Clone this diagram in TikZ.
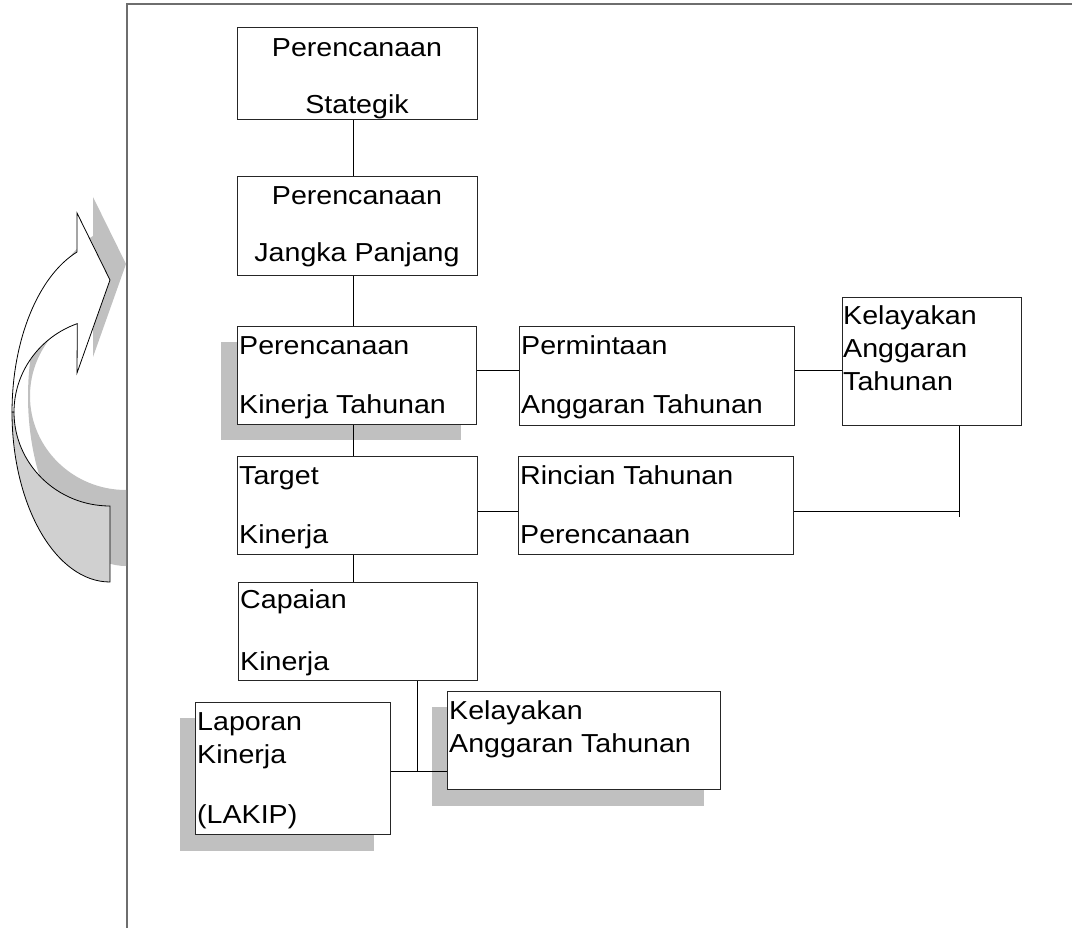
\documentclass[tikz,border=0pt]{standalone}
\usepackage{fontspec}
\setmainfont[FakeStretch=1.1]{Liberation Sans}
\definecolor{shadowgray}{HTML}{C0C0C0}
\definecolor{backface}{HTML}{D0D0D0}
\definecolor{framecol}{HTML}{6E6E6E}
\begin{document}
\begin{tikzpicture}[x=1pt,y=-1pt,
  box/.style={draw=black!85, line width=1pt, fill=white, inner sep=0pt, anchor=north west},
  shadowbox/.style={fill=shadowgray, draw=none, inner sep=0pt, anchor=north west},
  txt/.style={inner sep=0pt, anchor=base west, font=\fontsize{26}{30}\selectfont},
  ctxt/.style={txt, anchor=base},
  conn/.style={draw=black, line width=1pt},
  arrowline/.style={draw=black, line width=0.8pt}]
\useasboundingbox (0,0) rectangle (1072,928);

% frame
\coordinate (fa) at (127,928);
\coordinate (fb) at (127,4);
\coordinate (fc) at (1072,4);
\draw[framecol, line width=1.5pt] (fa) -- (fb) -- (fc);

% curved arrow: shadow
\begin{scope}[shift={(16,-16)}]
\fill[shadowgray] (77,252) arc[start angle=250.3, end angle=180, x radius=98, y radius=170]
  -- (14,412) arc[start angle=180, end angle=250.1, x radius=96, y radius=94]
  -- (77,373) -- (110,280) -- (77,213) -- cycle;
\fill[shadowgray] (110,506) arc[start angle=90, end angle=180, x radius=96, y radius=94]
  -- (12,412) arc[start angle=180, end angle=90, x radius=98, y radius=170] -- cycle;
\end{scope}
% curved arrow: back face
\path[arrowline, fill=backface] (110,506) arc[start angle=90, end angle=180, x radius=96, y radius=94]
  -- (12,412) arc[start angle=180, end angle=90, x radius=98, y radius=170] -- cycle;
% curved arrow: front face with head
\path[arrowline, fill=white] (77,252) arc[start angle=250.3, end angle=180, x radius=98, y radius=170]
  -- (14,412) arc[start angle=180, end angle=250.1, x radius=96, y radius=94]
  -- (77,373) -- (110,280) -- (77,213) -- cycle;

% shadows
\node[shadowbox, minimum width=240pt, minimum height=98pt] (s3) at (221,342) {};
\node[shadowbox, minimum width=194pt, minimum height=133pt] (s9) at (180,718) {};
\node[shadowbox, minimum width=272pt, minimum height=99pt] (s10) at (432,707) {};

% boxes
\node[box, minimum width=240pt, minimum height=92pt] (b1) at (237,27) {};
\node[box, minimum width=240pt, minimum height=99pt] (b2) at (237,176) {};
\node[box, minimum width=239pt, minimum height=98pt] (b3) at (237,326) {};
\node[box, minimum width=275pt, minimum height=99pt] (b4) at (519,326) {};
\node[box, minimum width=179pt, minimum height=128pt] (b5) at (842,297) {};
\node[box, minimum width=240pt, minimum height=98pt] (b6) at (237,456) {};
\node[box, minimum width=275pt, minimum height=98pt] (b7) at (518,456) {};
\node[box, minimum width=239pt, minimum height=98pt] (b8) at (238,582) {};
\node[box, minimum width=195pt, minimum height=132pt] (b9) at (195,702) {};
\node[box, minimum width=273pt, minimum height=98pt] (b10) at (447,691) {};

% texts
\node[ctxt] (t1a) at (357,57) {Perencanaan};
\node[ctxt] (t1b) at (357,114) {Stategik};
\node[ctxt] (t2a) at (357,205) {Perencanaan};
\node[ctxt] (t2b) at (357,262) {Jangka Panjang};
\node[txt] (t3a) at (239,355) {Perencanaan};
\node[txt] (t3b) at (239,413) {Kinerja Tahunan};
\node[txt] (t4a) at (521,355) {Permintaan};
\node[txt] (t4b) at (521,413) {Anggaran Tahunan};
\node[txt] (t5a) at (843,325) {Kelayakan};
\node[txt] (t5b) at (843,358) {Anggaran};
\node[txt] (t5c) at (843,391) {Tahunan};
\node[txt] (t6a) at (239,484) {Target};
\node[txt] (t6b) at (239,543) {Kinerja};
\node[txt] (t7a) at (520,484) {Rincian Tahunan};
\node[txt] (t7b) at (520,543) {Perencanaan};
\node[txt] (t8a) at (240,608) {Capaian};
\node[txt] (t8b) at (240,670) {Kinerja};
\node[txt] (t9a) at (197,730) {Laporan};
\node[txt] (t9b) at (197,763) {Kinerja};
\node[txt] (t9c) at (197,823) {(LAKIP)};
\node[txt] (t10a) at (449,719) {Kelayakan};
\node[txt] (t10b) at (449,752) {Anggaran Tahunan};

% connector helper coordinates
\coordinate (vx) at (353,0);
\coordinate (hy1) at (0,370);
\coordinate (hy2) at (0,511);
\coordinate (j1) at (959,517);
\coordinate (vx2) at (417,0);
\coordinate (hy3) at (0,771);

% connectors
\draw[conn] (b1.south -| vx) -- (b2.north -| vx);
\draw[conn] (b2.south -| vx) -- (b3.north -| vx);
\draw[conn] (b3.south -| vx) -- (b6.north -| vx);
\draw[conn] (b6.south -| vx) -- (b8.north -| vx);
\draw[conn] (b3.east |- hy1) -- (b4.west |- hy1);
\draw[conn] (b4.east |- hy1) -- (b5.west |- hy1);
\draw[conn] (b6.east |- hy2) -- (b7.west |- hy2);
\draw[conn] (b7.east |- hy2) -- (j1 |- hy2);
\draw[conn] (b5.south -| j1) -- (j1);
\draw[conn] (b8.south -| vx2) -- (vx2 |- hy3);
\draw[conn] (b9.east |- hy3) -- (b10.west |- hy3);
\end{tikzpicture}
\end{document}
